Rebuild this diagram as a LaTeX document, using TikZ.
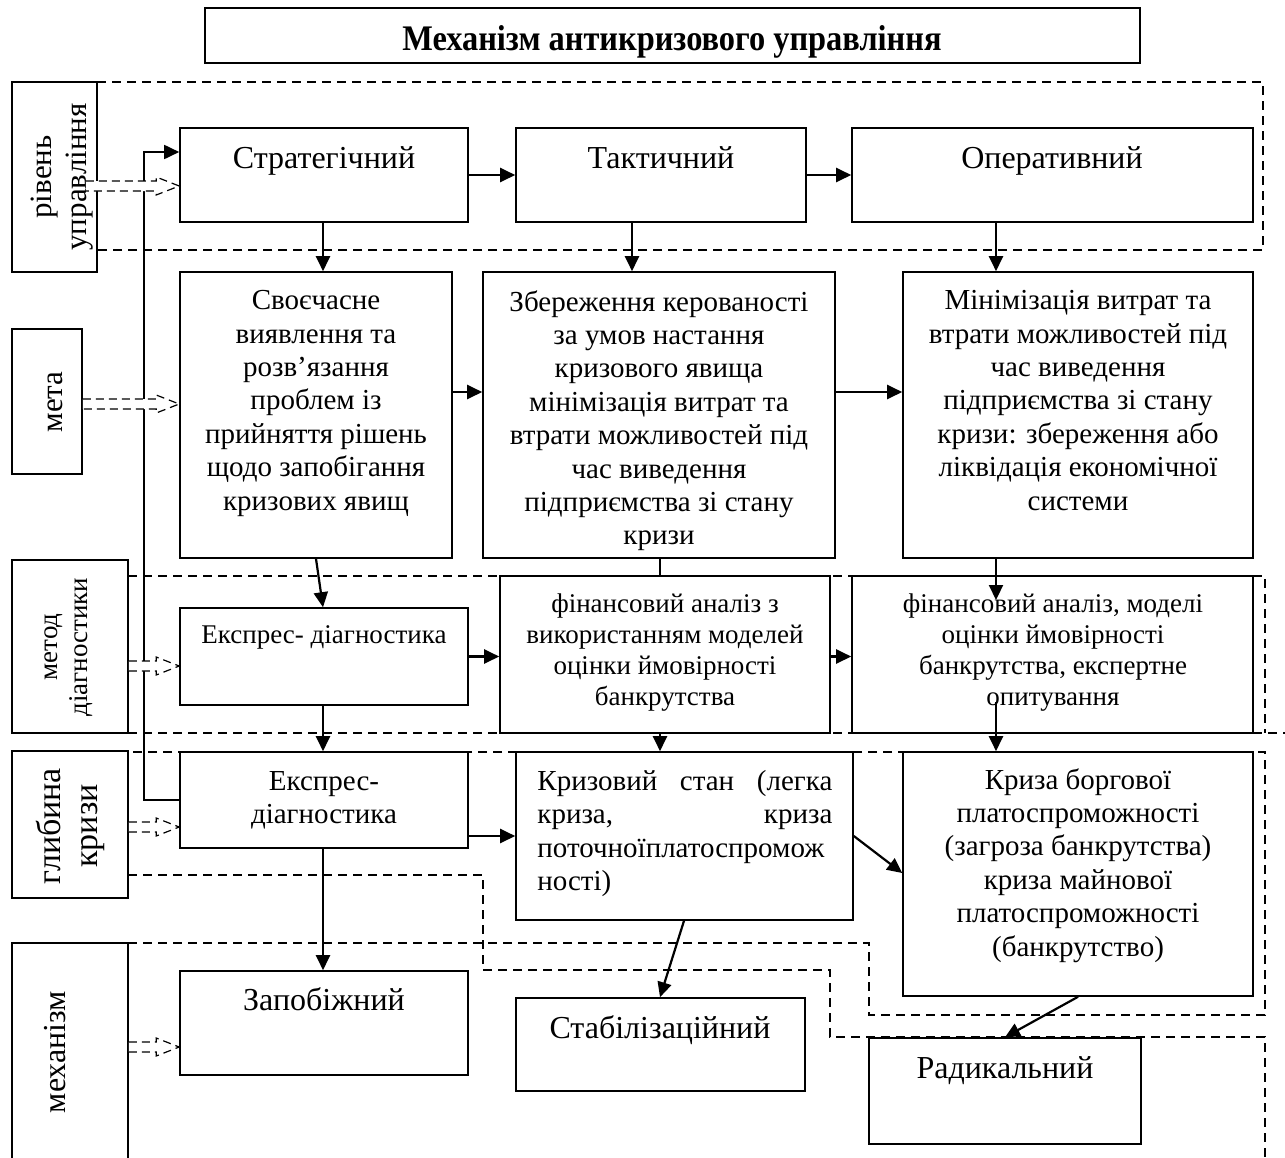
\documentclass[tikz,border=0pt]{standalone}
\usepackage{fontspec}
\setmainfont{Liberation Serif}
\newfontfamily\titlefont{Liberation Serif}[FakeStretch=0.9]
\usetikzlibrary{arrows.meta,fit,calc}

% open (hollow) dashed block arrow from #1 to the tip #2
\newcommand\hollowarrow[2]{%
  \fill[white] ($(#1)+(0,-5)$) -- ($(#2)+(-23,-5)$) -- ($(#2)+(-23,-9)$) -- (#2)
     -- ($(#2)+(-23,9)$) -- ($(#2)+(-23,5)$) -- ($(#1)+(0,5)$) -- cycle;
  \draw[hollow] ($(#1)+(0,-5)$) -- ($(#2)+(-23,-5)$) -- ($(#2)+(-23,-9)$) -- (#2)
     -- ($(#2)+(-23,9)$) -- ($(#2)+(-23,5)$) -- ($(#1)+(0,5)$);
}

\begin{document}
\begin{tikzpicture}[x=0.5pt,y=-0.5pt,
  box/.style={draw, line width=0.8pt, inner sep=0pt, fill=white},
  zone/.style={line width=0.6pt, dash pattern=on 4.5pt off 3pt},
  arr/.style={line width=1.1pt, -{Triangle[length=7.5pt,width=7pt]}},
  plain/.style={line width=1.1pt},
  hollow/.style={line width=0.6pt, dash pattern=on 4pt off 2.5pt},
  txt/.style={inner sep=0pt, align=center, font=\fontsize{14.5pt}{16.7pt}\selectfont},
  big/.style={inner sep=0pt, align=center, font=\fontsize{16pt}{18pt}\selectfont},
  small/.style={inner sep=0pt, align=center, font=\fontsize{13.5pt}{15.5pt}\selectfont},
  side/.style={inner sep=0pt, align=center, rotate=90},
]
\useasboundingbox (0,0) rectangle (1285,1157);

% ---- dashed zones of the levels ----
\draw[zone] (97,82) -- (1263,82) -- (1263,250) -- (97,250);
\draw[zone] (128,576) -- (1265,576) -- (1265,733);
\draw[zone] (128,733) -- (1285,733);
\draw[zone] (128,943) -- (869,943) -- (869,1015) -- (1265,1015) -- (1265,752) -- (128,752);
\draw[zone] (128,875) -- (483,875) -- (483,970) -- (830,970) -- (830,1037) -- (1265,1037) -- (1265,1165);

% ---- title ----
\node[box, line width=1.1pt, fit={(205,8) (1140,63)}] (title) {};
\node[inner sep=0pt, anchor=base, font=\titlefont\bfseries\fontsize{18pt}{20pt}\selectfont]
  (title-t) at (672,50) {Механізм антикризового управління};

% ---- side labels ----
\node[box, fit={(12,82) (97,272)}] (lab1) {};
\node[side, font=\fontsize{15.5pt}{17.5pt}\selectfont] (lab1-t) at (62,177) {рівень\\управління};
\node[box, fit={(12,329) (82,474)}] (lab2) {};
\node[side, font=\fontsize{15.5pt}{17.5pt}\selectfont] (lab2-t) at (55,402) {мета};
\node[box, fit={(12,560) (128,733)}] (lab3) {};
\node[side, font=\fontsize{13.5pt}{15pt}\selectfont] (lab3-t) at (69,647) {метод\\діагностики};
\node[box, fit={(12,751) (128,898)}] (lab4) {};
\node[side, font=\fontsize{17pt}{18.5pt}\selectfont] (lab4-t) at (70,826) {глибина\\кризи};
\node[box, fit={(12,943) (128,1170)}] (lab5) {};
\node[side, font=\fontsize{16pt}{18pt}\selectfont] (lab5-t) at (55,1052) {механізм};

% ---- level: management ----
\node[box, fit={(180,128) (468,222)}] (strat) {};
\node[big, anchor=base] (strat-t) at (324,168) {Стратегічний};
\node[box, fit={(516,128) (806,222)}] (takt) {};
\node[big, anchor=base] (takt-t) at (661,168) {Тактичний};
\node[box, fit={(852,128) (1253,222)}] (oper) {};
\node[big, anchor=base] (oper-t) at (1052,168) {Оперативний};

% ---- level: goal ----
\node[box, fit={(180,272) (452,558)}] (m1) {};
\node[txt, anchor=north] (m1-t) at (316,290) {Своєчасне\\виявлення та\\розв’язання\\проблем із\\прийняття рішень\\щодо запобігання\\кризових явищ};
\node[box, fit={(483,272) (835,558)}] (m2) {};
\node[txt, anchor=north] (m2-t) at (659,290) {Збереження керованості\\за умов настання\\кризового явища\\мінімізація витрат та\\втрати можливостей під\\час виведення\\підприємства зі стану\\кризи};
\node[box, fit={(903,272) (1253,558)}] (m3) {};
\node[txt, anchor=north] (m3-t) at (1078,290) {Мінімізація витрат та\\втрати можливостей під\\час виведення\\підприємства зі стану\\кризи: збереження або\\ліквідація економічної\\системи};

% ---- level: diagnostics ----
\node[box, fit={(180,608) (468,705)}] (exp3) {};
\node[small, anchor=base] (exp3-t) at (324,643) {Експрес- діагностика};
\node[box, fit={(500,576) (830,733)}] (fin2) {};
\node[small, anchor=north] (fin2-t) at (665,593) {фінансовий аналіз з\\використанням моделей\\оцінки ймовірності\\банкрутства};
\node[box, fit={(852,576) (1253,733)}] (fin3) {};
\node[small, anchor=north] (fin3-t) at (1053,593) {фінансовий аналіз, моделі\\оцінки ймовірності\\банкрутства, експертне\\опитування};

% ---- level: depth of crisis ----
\node[box, fit={(180,752) (468,848)}] (exp4) {};
\node[txt, anchor=north] (exp4-t) at (324,771) {Експрес-\\діагностика};
\node[box, fit={(516,752) (853,920)}] (kriz) {};
\node[txt, anchor=north west, align=left] (kriz-t) at (537,770)
  {\makebox[147.5pt][s]{Кризовий стан (легка}\\\makebox[147.5pt][s]{криза, криза}\\поточноїплатоспромож\\ності)};
\node[box, fit={(903,752) (1253,996)}] (kb) {};
\node[txt, anchor=north] (kb-t) at (1078,768) {Криза боргової\\платоспроможності\\(загроза банкрутства)\\криза майнової\\платоспроможності\\(банкрутство)};

% ---- level: mechanism ----
\node[box, fit={(180,971) (468,1075)}] (zap) {};
\node[big, anchor=base] (zap-t) at (324,1010) {Запобіжний};
\node[box, fit={(516,998) (805,1091)}] (stab) {};
\node[big, anchor=base] (stab-t) at (660,1038) {Стабілізаційний};
\node[box, fit={(869,1038) (1141,1144)}] (rad) {};
\node[big, anchor=base] (rad-t) at (1005,1078) {Радикальний};

% ---- guide coordinates for the connectors ----
\coordinate (c1) at (323,0);
\coordinate (c1a) at (316,0);
\coordinate (c2) at (632,0);
\coordinate (c2b) at (660,0);
\coordinate (c2c) at (684,0);
\coordinate (c3) at (996,0);
\coordinate (r2) at (0,392);
\coordinate (r4) at (0,836);
\coordinate (r4b) at (0,873);
\coordinate (t3in) at (0,600);
\coordinate (t3out) at (0,702);
\coordinate (fb) at (144,0);
\coordinate (yfb1) at (0,800);
\coordinate (yfb2) at (0,152);

% ---- connectors ----
\draw[arr] (strat) -- (takt);
\draw[arr] (takt) -- (oper);
\draw[arr] (strat.south -| c1) -- (m1.north -| c1);
\draw[arr] (takt.south -| c2) -- (m2.north -| c2);
\draw[arr] (oper.south -| c3) -- (m3.north -| c3);
\draw[arr] (m1.east |- r2) -- (m2.west |- r2);
\draw[arr] (m2.east |- r2) -- (m3.west |- r2);
\draw[arr] (m1.south -| c1a) -- (exp3.north -| c1);
\draw[arr] (exp3.east) -- (exp3.east -| fin2.west);
\draw[arr] (fin2.east |- exp3.east) -- (fin3.west |- exp3.east);
\draw[plain] (m2.south -| c2b) -- (fin2.north -| c2b);
\draw[arr] (m3.south -| c3) -- (c3 |- t3in);
\draw[arr] (exp3.south -| c1) -- (exp4.north -| c1);
\draw[arr] (fin2.south -| c2b) -- (kriz.north -| c2b);
\draw[arr] (c3 |- t3out) -- (kb.north -| c3);
\draw[arr] (exp4.east |- r4) -- (kriz.west |- r4);
\draw[arr] (kriz.east |- r4) -- (kb.west |- r4b);
\draw[arr] (exp4.south -| c1) -- (zap.north -| c1);
\draw[arr] (kriz.south -| c2c) -- (stab.north -| c2b);
\draw[arr] (kb.south) -- (rad.north);
\draw[arr, line width=0.9pt] (exp4.west |- yfb1) -- (fb |- yfb1) -- (fb |- yfb2) -- (strat.west |- yfb2);

% ---- open arrows from the level labels ----
\coordinate (y1) at (0,186);
\coordinate (y2) at (0,404);
\coordinate (y3) at (0,666);
\coordinate (y4) at (0,827);
\coordinate (y5) at (0,1047);
\coordinate (h1s) at ($(lab1.east |- y1)+(-12,0)$);
\coordinate (h1e) at (strat.west |- y1);
\coordinate (h2s) at (lab2.east |- y2);
\coordinate (h2e) at (m1.west |- y2);
\coordinate (h3s) at (lab3.east |- y3);
\coordinate (h3e) at (exp3.west |- y3);
\coordinate (h4s) at (lab4.east |- y4);
\coordinate (h4e) at (exp4.west |- y4);
\coordinate (h5s) at (lab5.east |- y5);
\coordinate (h5e) at (zap.west |- y5);
\hollowarrow{h1s}{h1e}
\hollowarrow{h2s}{h2e}
\hollowarrow{h3s}{h3e}
\hollowarrow{h4s}{h4e}
\hollowarrow{h5s}{h5e}
\end{tikzpicture}
\end{document}
